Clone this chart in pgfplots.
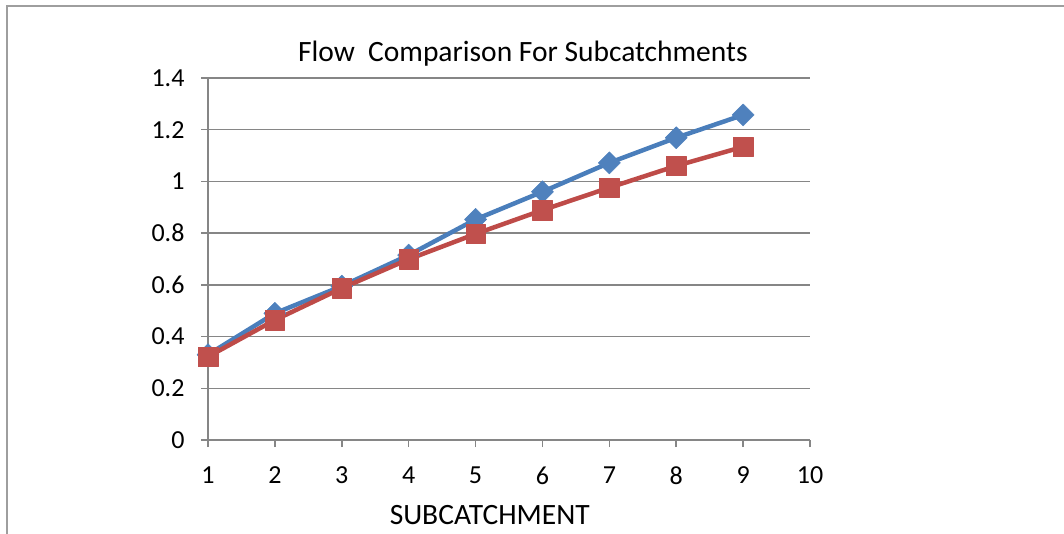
\documentclass[border=0pt]{standalone}
\usepackage{pgfplots}
\pgfplotsset{compat=1.18}
\usepackage{fontspec}
\setmainfont{Carlito}

\definecolor{serblue}{HTML}{4F81BD}
\definecolor{serblueline}{HTML}{4A7EBB}
\definecolor{serred}{HTML}{C0504D}
\definecolor{serredline}{HTML}{BE4B48}
\definecolor{gridgray}{HTML}{868686}

\begin{document}
\begin{tikzpicture}[x=1pt,y=1pt]
\useasboundingbox (0,0) rectangle (1064,533);
% chart area frame (left and top edges)
\draw[gridgray!80, line width=1.5pt] (7,-2) -- (7,527) -- (1066,527);
\begin{axis}[
  at={(208pt,93pt)}, anchor=south west,
  scale only axis, width=602pt, height=362pt,
  xmin=1, xmax=10, ymin=0, ymax=1.4,
  axis lines*=left,
  axis line style={gridgray, line width=1.5pt},
  xtick={1,2,3,4,5,6,7,8,9,10},
  xticklabels={1,2,3,4,5,6,7,8,9,10},
  ytick={0,0.2,0.4,0.6,0.8,1,1.2,1.4},
  yticklabels={0,0.2,0.4,0.6,0.8,1,1.2,1.4},
  tick align=outside, major tick length=7pt,
  tick style={gridgray, line width=1.5pt},
  ymajorgrids, grid style={gridgray, line width=1.5pt},
  /pgf/number format/assume math mode=true,
  tick label style={font=\fontsize{26}{30}\selectfont, text=black},
  xticklabel style={yshift=-16pt},
  yticklabel style={xshift=-13pt},
  title={Flow\ \ Comparison For Subcatchments},
  title style={font=\fontsize{29.5}{34}\selectfont, at={(axis description cs:0.523,1.051)}, anchor=center},
  xlabel={SUBCATCHMENT},
  xlabel style={font=\fontsize{29.5}{34}\selectfont, at={(axis description cs:0.468,-0.207)}, anchor=center},
  clip=false,
]
\addplot[serblueline, line width=4.5pt, line join=round,
  mark=square*, mark size=7.8pt,
  mark options={rotate=45, fill=serblue, draw=serblue, line width=0.5pt}]
  coordinates {(1,0.33) (2,0.49) (3,0.595) (4,0.715) (5,0.853) (6,0.96) (7,1.072) (8,1.169) (9,1.257)};
\addplot[serredline, line width=4.5pt, line join=round,
  mark=square*, mark size=9.8pt,
  mark options={fill=serred, draw=serred, line width=0.5pt}]
  coordinates {(1,0.322) (2,0.464) (3,0.587) (4,0.699) (5,0.797) (6,0.889) (7,0.976) (8,1.06) (9,1.134)};
\end{axis}
\end{tikzpicture}
\end{document}
